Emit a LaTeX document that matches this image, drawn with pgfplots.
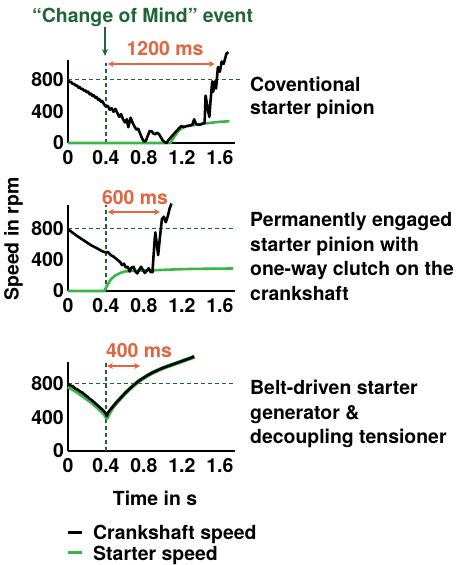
\documentclass[border=0pt]{standalone}
\usepackage{pgfplots}
\pgfplotsset{compat=1.18}
\usepackage{fontspec}
\setmainfont{TeX Gyre Heros}
\usetikzlibrary{arrows.meta}
\definecolor{dgreen}{HTML}{1F6636}
\definecolor{lgreen}{HTML}{3AB54A}
\definecolor{orng}{HTML}{E4643F}
\newcommand{\fnt}{\bfseries\fontsize{19.5}{20}\selectfont}
\pgfplotsset{panel/.style={
  scale only axis, width=167bp, xmin=0, xmax=1.76, ymin=0,
  anchor=south west,
  axis x line=bottom, axis y line=left,
  axis line style={line width=2.6bp,-},
  xtick={0,0.4,0.8,1.2,1.6}, xticklabels={0,0.4,0.8,1.2,1.6},
  ytick={0,400,800}, yticklabels={0,400,800},
  major tick length=0,
  tick label style={font=\fnt},
  xticklabel style={anchor=north, inner sep=0pt, yshift=-7bp},
  yticklabel style={anchor=east, inner sep=0pt, xshift=-4bp},
  clip=false,
}}
\tikzset{dsh/.style={dgreen, line width=1.1bp, dash pattern=on 4bp off 3bp},
  crank/.style={black, line width=2.6bp, line join=round},
  start/.style={lgreen, line width=2.6bp, line join=round},
  oarr/.style={orng, line width=1.6bp, {Stealth[length=6bp,width=6bp]}-{Stealth[length=6bp,width=6bp]}}}
\begin{document}
\begin{tikzpicture}
\useasboundingbox (0,0) rectangle (460bp,565bp);
% ---------- panel 1 ----------
\begin{axis}[panel, at={(68bp,422bp)}, height=83bp, ymax=1050]
\draw[dsh] (axis cs:0.4,0) -- (axis cs:0.4,1010);
\draw[dsh] (axis cs:0,800) -- (axis cs:1.81,800);
\addplot[start] coordinates {(0,0) (1.08,0) (1.12,80) (1.17,160) (1.22,205) (1.3,222) (1.4,240) (1.5,255) (1.6,268) (1.7,275)};
\addplot[crank] coordinates {(0,790) (0.02,770) (0.03,775) (0.05,745) (0.06,752) (0.08,725) (0.09,732) (0.11,700) (0.12,710) (0.14,680) (0.15,688) (0.17,660) (0.18,668) (0.20,640) (0.21,650) (0.23,615) (0.24,625) (0.26,595) (0.27,605) (0.29,570) (0.30,582) (0.32,545) (0.33,555) (0.35,520) (0.36,532) (0.38,490) (0.40,460) (0.42,470) (0.44,420) (0.46,440) (0.48,395) (0.50,430) (0.52,380) (0.54,330) (0.56,365) (0.58,300) (0.60,260) (0.62,300) (0.635,200) (0.66,320) (0.68,260) (0.70,210) (0.72,170) (0.74,180) (0.76,120) (0.78,60) (0.80,20) (0.82,25) (0.84,90) (0.86,150) (0.88,150) (0.90,120) (0.92,110) (0.94,130) (0.96,110) (0.98,70) (1.00,30) (1.02,10) (1.04,0) (1.06,40) (1.09,80) (1.12,120) (1.15,160) (1.18,200) (1.20,215) (1.22,200) (1.25,215) (1.28,220) (1.31,230) (1.33,300) (1.35,240) (1.38,230) (1.41,240) (1.44,255) (1.45,600) (1.47,450) (1.49,330) (1.50,500) (1.52,780) (1.53,650) (1.55,780) (1.56,690) (1.58,960) (1.60,900) (1.62,1030) (1.64,1000) (1.67,1130) (1.69,1150)};
\draw[oarr] (axis cs:0.42,999) -- (axis cs:1.547,999);
\end{axis}
% ---------- panel 2 ----------
\begin{axis}[panel, at={(68bp,274bp)}, height=86bp, ymax=1100]
\draw[dsh] (axis cs:0.4,0) -- (axis cs:0.4,1100);
\draw[dsh] (axis cs:0,800) -- (axis cs:1.76,800);
\addplot[start] coordinates {(0,0) (0.38,0) (0.40,40) (0.43,110) (0.46,160) (0.5,200) (0.55,230) (0.6,250) (0.7,260) (0.9,265) (1.1,275) (1.3,282) (1.5,285) (1.74,288)};
\addplot[crank] coordinates {(0,790) (0.05,745) (0.1,700) (0.15,660) (0.2,620) (0.25,580) (0.3,550) (0.35,515) (0.4,490) (0.42,500) (0.45,460) (0.48,440) (0.5,420) (0.52,400) (0.55,370) (0.57,330) (0.59,350) (0.61,300) (0.63,310) (0.65,250) (0.67,300) (0.69,310) (0.71,250) (0.73,225) (0.75,270) (0.77,310) (0.79,270) (0.81,230) (0.83,260) (0.85,290) (0.87,245) (0.89,240) (0.91,600) (0.92,750) (0.94,560) (0.95,460) (0.97,700) (0.99,920) (1.01,950) (1.03,880) (1.05,950) (1.07,1050) (1.09,1120)};
\draw[oarr] (axis cs:0.42,1010) -- (axis cs:0.97,1010);
\end{axis}
% ---------- panel 3 ----------
\begin{axis}[panel, at={(68bp,114bp)}, height=89bp, ymax=1050]
\draw[dsh] (axis cs:0.4,0) -- (axis cs:0.4,1047);
\draw[dsh] (axis cs:0,800) -- (axis cs:1.74,800);
\addplot[start, line width=4bp] coordinates {(0,760) (0.05,730) (0.1,695) (0.15,655) (0.2,615) (0.25,575) (0.3,525) (0.35,475) (0.38,440) (0.41,390) (0.43,440) (0.47,512) (0.5,555) (0.55,617) (0.6,677) (0.65,732) (0.7,782) (0.75,828) (0.8,863) (0.85,898) (0.9,928) (0.95,953) (1.0,978) (1.05,998) (1.1,1018) (1.15,1038) (1.2,1058) (1.25,1078) (1.3,1098) (1.33,1113)};
\addplot[crank] coordinates {(0,790) (0.03,770) (0.05,765) (0.08,735) (0.1,725) (0.13,700) (0.15,690) (0.18,660) (0.2,645) (0.23,615) (0.25,600) (0.28,570) (0.3,550) (0.33,520) (0.35,500) (0.38,470) (0.40,440) (0.41,410) (0.42,450) (0.44,480) (0.47,520) (0.5,560) (0.55,620) (0.6,680) (0.65,735) (0.7,785) (0.75,830) (0.8,865) (0.85,900) (0.9,930) (0.95,955) (1.0,980) (1.05,1000) (1.1,1020) (1.15,1040) (1.2,1060) (1.25,1080) (1.3,1100) (1.33,1115)};
\draw[oarr] (axis cs:0.41,1003) -- (axis cs:0.76,1003);
\end{axis}
% ---------- texts ----------
\node[anchor=base west, inner sep=0, text=dgreen, font=\fnt] at (32bp,542bp) {“Change of Mind” event};
\draw[dgreen, line width=1.6bp, -{Stealth[length=7bp,width=6bp]}] (105bp,538bp) -- (105bp,509bp);
\node[anchor=base, inner sep=0, text=orng, font=\fnt] at (165bp,509bp) {1200 ms};
\node[anchor=base, inner sep=0, text=orng, font=\fnt] at (135bp,360bp) {600 ms};
\node[anchor=base, inner sep=0, text=orng, font=\fnt] at (139bp,207bp) {400 ms};
\node[anchor=base west, inner sep=0, font=\fnt] at (250bp,473bp) {Coventional};
\node[anchor=base west, inner sep=0, font=\fnt] at (250bp,450bp) {starter pinion};
\node[anchor=base west, inner sep=0, font=\fnt] at (250bp,338bp) {Permanently engaged};
\node[anchor=base west, inner sep=0, font=\fnt] at (250bp,313.5bp) {starter pinion with};
\node[anchor=base west, inner sep=0, font=\fnt] at (250bp,289bp) {one-way clutch on the};
\node[anchor=base west, inner sep=0, font=\fnt] at (250bp,264.5bp) {crankshaft};
\node[anchor=base west, inner sep=0, font=\fnt] at (250bp,170bp) {Belt-driven starter};
\node[anchor=base west, inner sep=0, font=\fnt] at (250bp,145.5bp) {generator \&};
\node[anchor=base west, inner sep=0, font=\fnt] at (250bp,121bp) {decoupling tensioner};
\node[rotate=90, inner sep=0, font=\fnt] at (13.5bp,326bp) {Speed in rpm};
\node[anchor=base, inner sep=0, font=\fnt] at (155bp,59bp) {Time in s};
\draw[black, line width=3bp] (68bp,32bp) -- (82bp,32bp);
\draw[lgreen, line width=3bp] (68bp,12bp) -- (82bp,12bp);
\node[anchor=base west, inner sep=0, font=\fnt] at (93bp,25.5bp) {Crankshaft speed};
\node[anchor=base west, inner sep=0, font=\fnt] at (93bp,5bp) {Starter speed};
\end{tikzpicture}
\end{document}
